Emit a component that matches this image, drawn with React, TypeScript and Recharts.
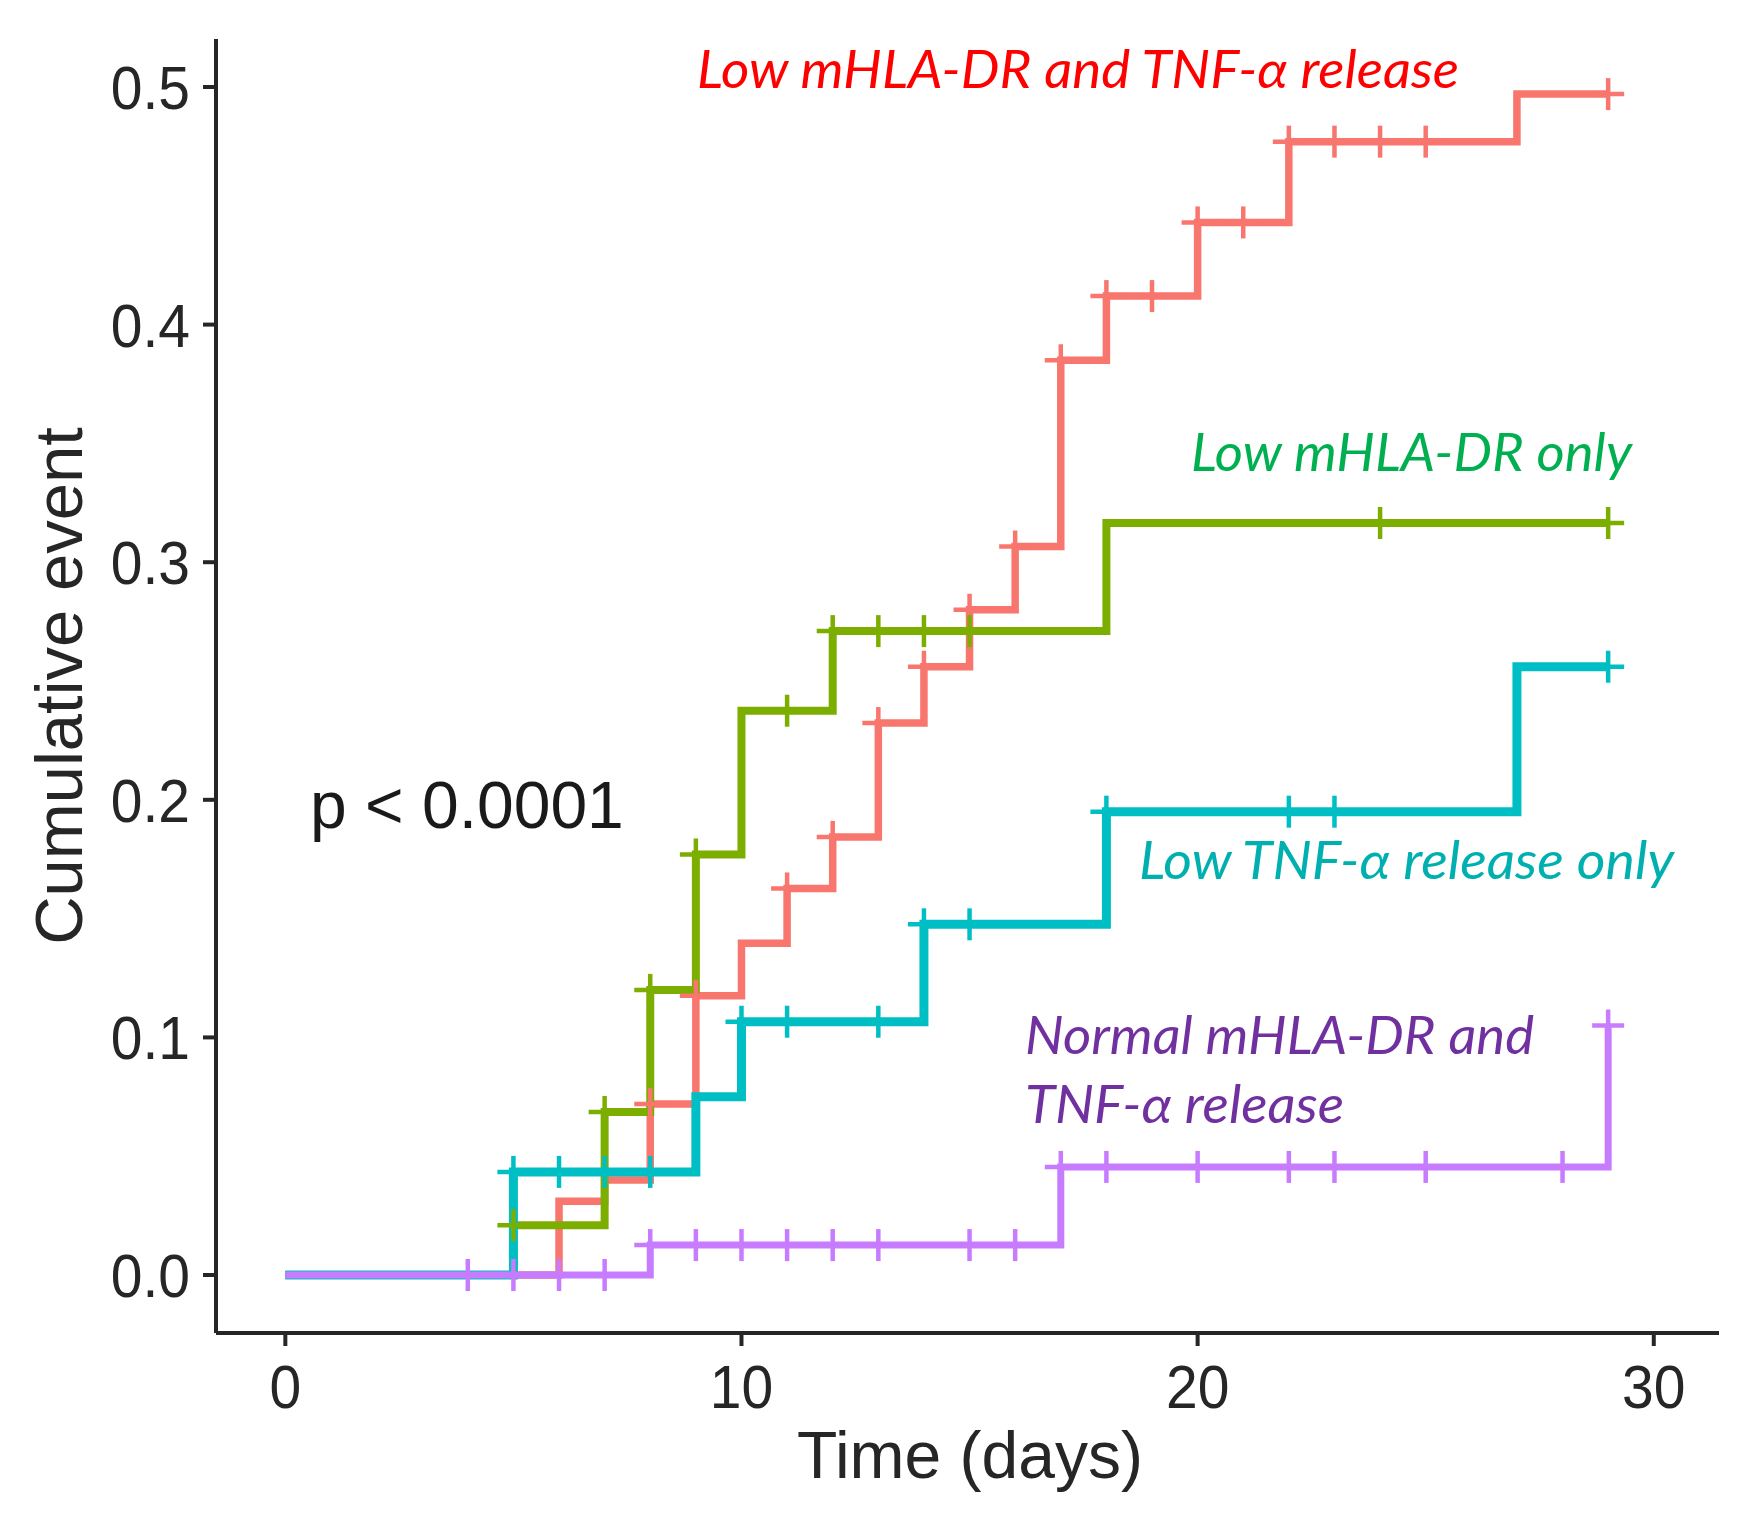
import React from 'react';
import { ComposedChart, Line, Scatter, XAxis, YAxis } from 'recharts';

// ---- Data ----
const xTicks = [0, 10, 20, 30];
const yTicks = [0, 0.1, 0.2, 0.3, 0.4, 0.5];

// Low mHLA-DR and TNF-α release (red)
const redTimes = [0, 6, 7, 8, 9, 10, 11, 12, 13, 14, 15, 16, 17, 18, 20, 22, 27, 29];
const redValues = [0, 0.031, 0.04, 0.072, 0.1175, 0.1396, 0.1627, 0.1844, 0.2323, 0.256, 0.28, 0.3066, 0.385, 0.412, 0.443, 0.477, 0.497, 0.497];
const redCensor = [8, 9, 11, 12, 13, 14, 15, 16, 17, 18, 19, 20, 21, 22, 23, 24, 25, 29];

// Low mHLA-DR only (green)
const greenTimes = [0, 5, 7, 8, 9, 10, 12, 18, 29];
const greenValues = [0, 0.021, 0.0686, 0.12, 0.177, 0.2375, 0.271, 0.3165, 0.3165];
const greenCensor = [5, 7, 8, 9, 11, 12, 13, 14, 15, 24, 29];

// Low TNF-α release only (cyan)
const cyanTimes = [0, 5, 9, 10, 14, 18, 27, 29];
const cyanValues = [0, 0.0434, 0.075, 0.1066, 0.1476, 0.195, 0.256, 0.256];
const cyanCensor = [5, 6, 7, 8, 10, 11, 13, 14, 15, 18, 22, 23, 29];

// Normal mHLA-DR and TNF-α release (purple)
const purpleTimes = [0, 8, 17, 29];
const purpleValues = [0, 0.0126, 0.0455, 0.105];
const purpleCensor = [4, 5, 6, 7, 8, 9, 10, 11, 12, 13, 15, 16, 17, 18, 20, 22, 23, 25, 28, 29];

const RED = '#F8766D';
const GREEN = '#7CAE00';
const CYAN = '#00BFC4';
const PURPLE = '#C77CFF';

const toSteps = (ts: number[], vs: number[]) => ts.map((t, i) => ({ t, v: vs[i] }));
const toCensor = (cs: number[], ts: number[], vs: number[]) =>
  cs.map((c) => {
    let v = vs[0];
    for (let i = 0; i < ts.length; i++) if (ts[i] <= c) v = vs[i];
    return { t: c, v };
  });

const series = [
  { name: 'red', color: RED, width: 7.5, steps: toSteps(redTimes, redValues), cens: toCensor(redCensor, redTimes, redValues) },
  { name: 'green', color: GREEN, width: 8, steps: toSteps(greenTimes, greenValues), cens: toCensor(greenCensor, greenTimes, greenValues) },
  { name: 'cyan', color: CYAN, width: 9, steps: toSteps(cyanTimes, cyanValues), cens: toCensor(cyanCensor, cyanTimes, cyanValues) },
  { name: 'purple', color: PURPLE, width: 7, steps: toSteps(purpleTimes, purpleValues), cens: toCensor(purpleCensor, purpleTimes, purpleValues) },
];

const AXIS = '#262626';
const SANS = '"Liberation Sans", Arial, sans-serif';
const NOTE = 'Lato, "Open Sans", sans-serif';

const plus = (color: string) => (props: any) => {
  const { cx, cy } = props;
  if (cx == null || cy == null) return <g />;
  return (
    <g>
      <line x1={cx - 16} y1={cy} x2={cx + 16} y2={cy} stroke={color} strokeWidth={4.5} />
      <line x1={cx} y1={cy - 16} x2={cx} y2={cy + 16} stroke={color} strokeWidth={4.5} />
    </g>
  );
};

const YTick = (props: any) => {
  const { x, y, payload } = props;
  return (
    <g transform={`translate(${x},${y + 22}) scale(0.92,1)`}>
      <text x={0} y={0} textAnchor="end" fontFamily={SANS} fontSize={62} fill={AXIS}>
        {Number(payload.value).toFixed(1)}
      </text>
    </g>
  );
};

const XTick = (props: any) => {
  const { x, y, payload } = props;
  return (
    <g transform={`translate(${x},${y + 62}) scale(0.92,1)`}>
      <text x={0} y={0} textAnchor="middle" fontFamily={SANS} fontSize={62} fill={AXIS}>
        {payload.value}
      </text>
    </g>
  );
};

export default function App() {
  return (
    <div style={{ position: 'relative', width: 1756, height: 1528, margin: '-8px 0 0 -8px', background: '#fff' }}>
      <ComposedChart width={1756} height={1528} margin={{ top: 39, right: 37, bottom: 0, left: 0 }}>
        <XAxis
          type="number"
          dataKey="t"
          domain={[-1.52, 31.43]}
          ticks={xTicks}
          allowDataOverflow
          height={195}
          tickSize={13}
          tickMargin={0}
          axisLine={{ stroke: AXIS, strokeWidth: 4 }}
          tickLine={{ stroke: AXIS, strokeWidth: 4 }}
          tick={<XTick />}
        />
        <YAxis
          type="number"
          dataKey="v"
          domain={[-0.0244, 0.5202]}
          ticks={yTicks}
          allowDataOverflow
          width={216}
          tickSize={13}
          tickMargin={13}
          axisLine={{ stroke: AXIS, strokeWidth: 4 }}
          tickLine={{ stroke: AXIS, strokeWidth: 4 }}
          tick={<YTick />}
        />
        {series.map((s) => (
          <Line
            key={`l-${s.name}`}
            data={s.steps}
            dataKey="v"
            type="stepAfter"
            stroke={s.color}
            strokeWidth={s.width}
            strokeLinecap="butt"
            strokeLinejoin="miter"
            dot={false}
            activeDot={false}
            isAnimationActive={false}
          />
        ))}
        {series.map((s) => (
          <Scatter
            key={`c-${s.name}`}
            data={s.cens}
            dataKey="v"
            fill={s.color}
            shape={plus(s.color)}
            isAnimationActive={false}
          />
        ))}
      </ComposedChart>
      <svg
        width={1756}
        height={1528}
        style={{ position: 'absolute', left: 0, top: 0, pointerEvents: 'none' }}
      >
        <text
          transform="translate(82,686) rotate(-90)"
          textAnchor="middle"
          fontFamily={SANS}
          fontSize={67}
          fill={AXIS}
        >
          Cumulative event
        </text>
        <text x={970} y={1478} textAnchor="middle" fontFamily={SANS} fontSize={66} fill={AXIS}>
          Time (days)
        </text>
        <text x={310} y={828} fontFamily={SANS} fontSize={66} fill="#1a1a1a">
          p &lt; 0.0001
        </text>
        <text x={697} y={88} fontFamily={NOTE} fontStyle="italic" fontSize={52} fill="#FF0000" textLength={762} lengthAdjust="spacingAndGlyphs">
          Low mHLA-DR and TNF-α release
        </text>
        <text x={1191} y={471} fontFamily={NOTE} fontStyle="italic" fontSize={52} fill="#00B050" textLength={441} lengthAdjust="spacingAndGlyphs">
          Low mHLA-DR only
        </text>
        <text x={1139} y={879} fontFamily={NOTE} fontStyle="italic" fontSize={52} fill="#00B0B0" textLength={535} lengthAdjust="spacingAndGlyphs">
          Low TNF-α release only
        </text>
        <text x={1025} y={1054} fontFamily={NOTE} fontStyle="italic" fontSize={52} fill="#7030A0" textLength={509} lengthAdjust="spacingAndGlyphs">
          Normal mHLA-DR and
        </text>
        <text x={1025} y={1123} fontFamily={NOTE} fontStyle="italic" fontSize={52} fill="#7030A0" textLength={319} lengthAdjust="spacingAndGlyphs">
          TNF-α release
        </text>
      </svg>
    </div>
  );
}
